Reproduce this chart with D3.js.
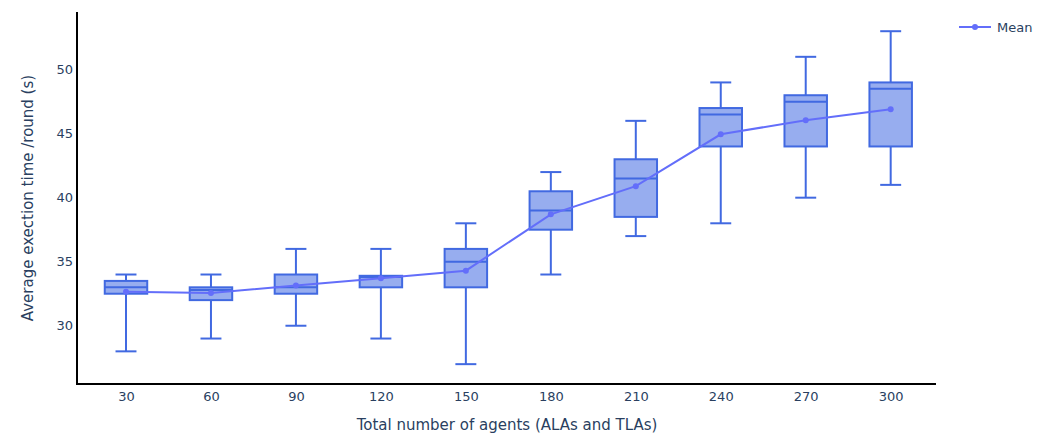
<!DOCTYPE html>
<html>
<head>
<meta charset="utf-8">
<script src="https://cdn.jsdelivr.net/npm/d3@7"></script>
<style>
  html, body { margin: 0; padding: 0; background: #fff; }
  svg { display: block; }
</style>
</head>
<body>
<svg id="chart" width="1042" height="434"></svg>
<script>
const categories = [30, 60, 90, 120, 150, 180, 210, 240, 270, 300];
const whiskerLow  = [28, 29, 30, 29, 27, 34, 37, 38, 40, 41];
const q1          = [32.5, 32, 32.5, 33, 33, 37.5, 38.5, 44, 44, 44];
const median      = [33, 32.8, 33, 33.8, 35, 39, 41.5, 46.5, 47.5, 48.5];
const q3          = [33.5, 33, 34, 33.9, 36, 40.5, 43, 47, 48, 49];
const whiskerHigh = [34, 34, 36, 36, 38, 42, 46, 49, 51, 53];
const meanValues  = [32.65, 32.55, 33.15, 33.7, 34.3, 38.7, 40.9, 44.95, 46.05, 46.9];
const yTicks = [30, 35, 40, 45, 50];
const xTitle = "Total number of agents (ALAs and TLAs)";
const yTitle = "Average exection time /round (s)";
const legendLabel = "Mean";

(function () {
const svg = d3.select("#chart");
const pLeft = 77, pRight = 936, pTop = 12, pBottom = 384;
const textColor = "#2a3f5f";
const font = "Verdana, 'DejaVu Sans', sans-serif";

const x = d3.scaleLinear().domain([12.7, 316]).range([pLeft, pRight]);
const y = d3.scaleLinear().domain([25.45, 54.5]).range([pBottom, pTop]);

const boxColor = "#4169e1";
const boxFill = "rgba(65,105,225,0.55)";
const boxHalf = 7.5;  // in data units
const capHalf = 3.7;

const data = categories.map((c, i) => ({
  c, lo: whiskerLow[i], q1: q1[i], med: median[i], q3: q3[i], hi: whiskerHigh[i], mean: meanValues[i]
}));

const g = svg.append("g");
const boxes = g.selectAll("g.box").data(data).enter().append("g").attr("class", "box");

boxes.append("line")
  .attr("x1", d => x(d.c)).attr("x2", d => x(d.c))
  .attr("y1", d => y(d.hi)).attr("y2", d => y(d.q3))
  .attr("stroke", boxColor).attr("stroke-width", 2);
boxes.append("line")
  .attr("x1", d => x(d.c)).attr("x2", d => x(d.c))
  .attr("y1", d => y(d.q1)).attr("y2", d => y(d.lo))
  .attr("stroke", boxColor).attr("stroke-width", 2);
boxes.append("line")
  .attr("x1", d => x(d.c - capHalf)).attr("x2", d => x(d.c + capHalf))
  .attr("y1", d => y(d.hi)).attr("y2", d => y(d.hi))
  .attr("stroke", boxColor).attr("stroke-width", 2);
boxes.append("line")
  .attr("x1", d => x(d.c - capHalf)).attr("x2", d => x(d.c + capHalf))
  .attr("y1", d => y(d.lo)).attr("y2", d => y(d.lo))
  .attr("stroke", boxColor).attr("stroke-width", 2);
boxes.append("rect")
  .attr("x", d => x(d.c - boxHalf))
  .attr("width", d => x(d.c + boxHalf) - x(d.c - boxHalf))
  .attr("y", d => y(d.q3))
  .attr("height", d => y(d.q1) - y(d.q3))
  .attr("fill", boxFill).attr("stroke", boxColor).attr("stroke-width", 2);
boxes.append("line")
  .attr("x1", d => x(d.c - boxHalf)).attr("x2", d => x(d.c + boxHalf))
  .attr("y1", d => y(d.med)).attr("y2", d => y(d.med))
  .attr("stroke", boxColor).attr("stroke-width", 2);

const meanColor = "#636efa";
const line = d3.line().x(d => x(d.c)).y(d => y(d.mean));
g.append("path").datum(data).attr("d", line)
  .attr("fill", "none").attr("stroke", meanColor).attr("stroke-width", 2);
g.selectAll("circle.mean").data(data).enter().append("circle")
  .attr("class", "mean")
  .attr("cx", d => x(d.c)).attr("cy", d => y(d.mean)).attr("r", 3)
  .attr("fill", meanColor);

const xAxis = d3.axisBottom(x).tickValues(categories).tickSize(0).tickPadding(8).tickFormat(d3.format("d"));
const xg = svg.append("g").attr("transform", `translate(0,${pBottom})`).call(xAxis);
const yAxis = d3.axisLeft(y).tickValues(yTicks).tickSize(0).tickPadding(4);
const yg = svg.append("g").attr("transform", `translate(${pLeft},0)`).call(yAxis);
[xg, yg].forEach(a => {
  a.select(".domain").remove();
  a.selectAll("text").attr("fill", textColor).style("font-family", font).style("font-size", "13px");
});
svg.append("line").attr("x1", pLeft).attr("x2", pLeft).attr("y1", pTop).attr("y2", pBottom + 1)
  .attr("stroke", "#000").attr("stroke-width", 2);
svg.append("line").attr("x1", pLeft - 1).attr("x2", pRight).attr("y1", pBottom).attr("y2", pBottom)
  .attr("stroke", "#000").attr("stroke-width", 2);

svg.append("text").attr("x", 507).attr("y", 430)
  .attr("text-anchor", "middle").attr("fill", textColor)
  .style("font-family", font).style("font-size", "15px").text(xTitle);
svg.append("text").attr("transform", `translate(33,${(pTop + pBottom) / 2}) rotate(-90)`)
  .attr("text-anchor", "middle").attr("fill", textColor)
  .style("font-family", font).style("font-size", "15px").text(yTitle);

const lg = svg.append("g").attr("transform", "translate(959,27)");
lg.append("line").attr("x1", 0).attr("x2", 32).attr("y1", 0).attr("y2", 0)
  .attr("stroke", meanColor).attr("stroke-width", 2);
lg.append("circle").attr("cx", 16).attr("cy", 0).attr("r", 3).attr("fill", meanColor);
lg.append("text").attr("x", 38).attr("y", 5).attr("fill", textColor)
  .style("font-family", font).style("font-size", "13px").text(legendLabel);
})();
</script>
</body>
</html>
